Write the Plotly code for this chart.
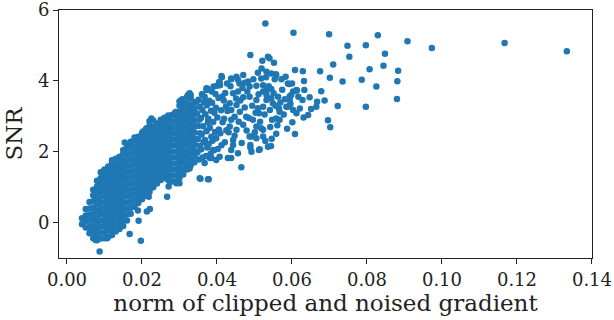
import plotly.graph_objects as go

# Dense band: column x positions and the SNR values read within each column
band_x = [0.0040, 0.0050, 0.0060, 0.0070, 0.0080, 0.0090, 0.0100, 0.0110, 0.0120, 0.0130,
          0.0140, 0.0150, 0.0160, 0.0170, 0.0180, 0.0190, 0.0200, 0.0210, 0.0220, 0.0230,
          0.0240, 0.0250, 0.0260, 0.0270, 0.0280, 0.0290, 0.0300, 0.0310, 0.0320, 0.0330,
          0.0340]
band_y = [
    [-0.05, 0.12],
    [-0.14, 0.04, 0.20, 0.38],
    [-0.30, -0.12, 0.05, 0.22, 0.40, 0.58],
    [-0.44, -0.27, -0.10, 0.08, 0.25, 0.42, 0.60, 0.77, 0.93],
    [-0.50, -0.33, -0.16, 0.01, 0.17, 0.34, 0.51, 0.68, 0.85, 1.02, 1.18],
    [-0.45, -0.28, -0.11, 0.06, 0.24, 0.41, 0.58, 0.75, 0.92, 1.09, 1.26, 1.42],
    [-0.44, -0.27, -0.10, 0.07, 0.23, 0.40, 0.57, 0.74, 0.91, 1.07, 1.24, 1.40, 1.50],
    [-0.40, -0.22, -0.05, 0.12, 0.29, 0.46, 0.63, 0.80, 0.97, 1.14, 1.31, 1.47, 1.58],
    [-0.35, -0.18, -0.01, 0.16, 0.33, 0.50, 0.67, 0.84, 1.01, 1.18, 1.35, 1.52, 1.68, 1.76],
    [-0.25, -0.08, 0.09, 0.26, 0.43, 0.60, 0.77, 0.94, 1.11, 1.28, 1.45, 1.62, 1.80],
    [-0.18, -0.01, 0.16, 0.33, 0.50, 0.67, 0.84, 1.01, 1.18, 1.35, 1.52, 1.69, 1.86],
    [-0.10, 0.07, 0.24, 0.41, 0.58, 0.75, 0.92, 1.09, 1.26, 1.43, 1.60, 1.77, 1.94, 2.05],
    [0.06, 0.23, 0.40, 0.57, 0.74, 0.91, 1.08, 1.25, 1.42, 1.59, 1.76, 1.93, 2.10, 2.20],
    [0.25, 0.42, 0.59, 0.76, 0.93, 1.10, 1.27, 1.44, 1.61, 1.78, 1.95, 2.12, 2.28],
    [0.45, 0.62, 0.79, 0.96, 1.13, 1.30, 1.47, 1.64, 1.81, 1.98, 2.15, 2.32, 2.40],
    [0.55, 0.72, 0.89, 1.06, 1.23, 1.40, 1.57, 1.74, 1.91, 2.08, 2.25, 2.42],
    [0.66, 0.83, 1.00, 1.17, 1.34, 1.51, 1.68, 1.85, 2.02, 2.19, 2.36, 2.53],
    [0.76, 0.93, 1.10, 1.27, 1.44, 1.61, 1.78, 1.95, 2.12, 2.29, 2.46, 2.63],
    [0.86, 1.03, 1.20, 1.37, 1.54, 1.71, 1.88, 2.05, 2.22, 2.39, 2.56, 2.73, 2.86],
    [1.00, 1.17, 1.34, 1.51, 1.68, 1.85, 2.02, 2.19, 2.36, 2.53, 2.70, 2.88],
    [1.10, 1.27, 1.44, 1.61, 1.78, 1.95, 2.12, 2.29, 2.46, 2.63, 2.80],
    [1.20, 1.37, 1.54, 1.71, 1.88, 2.05, 2.22, 2.39, 2.56, 2.73, 2.90],
    [1.26, 1.43, 1.60, 1.77, 1.94, 2.11, 2.28, 2.45, 2.62, 2.79, 2.96],
    [1.20, 1.37, 1.54, 1.71, 1.88, 2.05, 2.22, 2.39, 2.56, 2.73, 2.90, 3.02],
    [1.16, 1.33, 1.50, 1.67, 1.84, 2.01, 2.18, 2.35, 2.52, 2.69, 2.86, 3.04],
    [1.16, 1.33, 1.50, 1.67, 1.84, 2.01, 2.18, 2.35, 2.52, 2.69, 2.86, 3.03, 3.12],
    [1.26, 1.43, 1.60, 1.77, 1.94, 2.11, 2.28, 2.45, 2.62, 2.79, 2.96, 3.13, 3.30, 3.42],
    [1.36, 1.53, 1.70, 1.87, 2.04, 2.21, 2.38, 2.55, 2.72, 2.89, 3.06, 3.23, 3.40],
    [1.50, 1.67, 1.84, 2.01, 2.18, 2.35, 2.52, 2.69, 2.86, 3.03, 3.20, 3.37, 3.55],
    [1.62, 1.79, 1.96, 2.13, 2.30, 2.47, 2.64, 2.81, 2.98, 3.15, 3.32, 3.50, 3.60],
    [1.70, 1.87, 2.04, 2.21, 2.38, 2.55, 2.72, 2.89, 3.06, 3.23, 3.40],
]

# Upper end of the dense band (points read individually)
upper_x = [0.0352, 0.0348, 0.0354, 0.0349, 0.0355, 0.0350, 0.0353, 0.0347, 0.0354, 0.0351,
           0.0362, 0.0358, 0.0364, 0.0359, 0.0363, 0.0357, 0.0361, 0.0365, 0.0360,
           0.0371, 0.0374, 0.0368, 0.0372, 0.0376, 0.0369, 0.0373, 0.0367, 0.0375,
           0.0383, 0.0378, 0.0385, 0.0381, 0.0377, 0.0384, 0.0379, 0.0386,
           0.0392, 0.0388, 0.0395, 0.0390, 0.0393, 0.0387, 0.0396, 0.0391,
           0.0402, 0.0398, 0.0405, 0.0401, 0.0397, 0.0404, 0.0400, 0.0406,
           0.0412, 0.0409, 0.0415, 0.0411, 0.0414, 0.0408, 0.0413,
           0.0421, 0.0425, 0.0419, 0.0424, 0.0422, 0.0427]
upper_y = [1.78, 1.98, 2.16, 2.35, 2.52, 2.73, 2.90, 3.08, 3.27, 3.47,
           1.84, 2.07, 2.26, 2.49, 2.72, 2.95, 3.18, 3.40, 3.62,
           1.88, 2.12, 2.33, 2.58, 2.83, 3.06, 3.31, 3.55, 3.78,
           1.94, 2.22, 2.42, 2.68, 2.93, 3.16, 3.44, 3.70,
           2.04, 2.31, 2.56, 2.84, 3.10, 3.38, 3.63, 3.84,
           2.08, 2.38, 2.63, 2.97, 3.24, 3.52, 3.86, 3.97,
           2.18, 2.52, 2.83, 3.17, 3.56, 3.88, 4.10,
           2.27, 2.61, 2.93, 3.28, 3.66, 3.93]

# Middle region (scattered but fairly dense)
mid_x = [0.0489, 0.0521, 0.0540, 0.0552, 0.0536, 0.0509, 0.0532, 0.0545, 0.0558, 0.0572,
         0.0589, 0.0600, 0.0592, 0.0613, 0.0603, 0.0612, 0.0598, 0.0594, 0.0589, 0.0603,
         0.0612, 0.0558, 0.0546, 0.0544, 0.0514, 0.0489, 0.0492, 0.0465, 0.0443, 0.0438,
         0.0518, 0.0505, 0.0567, 0.0541, 0.0558, 0.0567, 0.0547, 0.0569, 0.0565, 0.0585,
         0.0594, 0.0581, 0.0545, 0.0523, 0.0509, 0.0512, 0.0496, 0.0478, 0.0461, 0.0447,
         0.0438, 0.0452, 0.0470, 0.0487, 0.0505, 0.0532, 0.0533, 0.0523, 0.0545, 0.0505,
         0.0487, 0.0474, 0.0456, 0.0438, 0.0443, 0.0456, 0.0434, 0.0438, 0.0434, 0.0452,
         0.0470, 0.0487, 0.0505, 0.0523, 0.0489, 0.0443, 0.0438, 0.0456, 0.0549, 0.0563,
         0.0532, 0.0554, 0.0518, 0.0523, 0.0470, 0.0452, 0.0412, 0.0407, 0.0438, 0.0460,
         0.0483, 0.0372, 0.0327, 0.0308, 0.0536, 0.0512, 0.0492, 0.0523, 0.0407, 0.0429,
         0.0381, 0.0385,
         0.0418, 0.0428, 0.0431, 0.0436, 0.0447, 0.0451, 0.0458, 0.0462, 0.0466, 0.0468,
         0.0474, 0.0479, 0.0481, 0.0485, 0.0494, 0.0497, 0.0501, 0.0503, 0.0511, 0.0515,
         0.0519, 0.0527, 0.0529, 0.0531, 0.0538, 0.0542, 0.0551, 0.0556, 0.0561, 0.0574,
         0.0578, 0.0583, 0.0587, 0.0596, 0.0617, 0.0621, 0.0557]
mid_y = [4.73, 4.57, 4.64, 4.51, 4.68, 4.23, 4.26, 4.21, 4.17, 4.05,
         3.93, 3.93, 3.91, 3.73, 3.70, 3.74, 3.60, 3.46, 3.27, 3.18,
         3.09, 2.51, 2.37, 2.16, 2.07, 2.12, 2.00, 1.56, 2.33, 2.05,
         2.66, 2.71, 3.13, 3.18, 2.94, 2.90, 2.90, 3.39, 3.23, 3.27,
         3.57, 3.48, 3.51, 3.27, 3.23, 3.09, 2.90, 2.99, 3.13, 2.99,
         2.90, 3.32, 3.54, 3.55, 3.46, 3.60, 3.74, 3.70, 3.77, 3.86,
         3.84, 3.95, 4.03, 4.07, 3.65, 3.70, 3.37, 3.18, 2.71, 2.62,
         2.76, 2.43, 2.38, 2.43, 2.19, 2.19, 1.82, 1.96, 3.37, 3.55,
         3.46, 4.05, 4.07, 3.88, 4.17, 4.12, 4.14, 3.95, 4.05, 3.93,
         3.98, 3.79, 3.65, 3.48, 2.14, 2.05, 2.43, 2.62, 1.86, 1.82,
         1.82, 1.82,
         3.45, 3.15, 2.55, 3.85, 2.45, 3.50, 2.85, 3.45, 2.25, 3.80,
         3.25, 2.60, 3.70, 2.95, 3.30, 4.05, 2.55, 3.10, 3.62, 2.85,
         4.35, 3.05, 2.30, 4.10, 3.85, 2.70, 3.65, 3.30, 2.75, 3.75,
         3.05, 4.12, 2.65, 3.35, 3.55, 3.22, 4.19]

# Sparse upper-right points
sparse_x = [0.1167, 0.1333, 0.0973, 0.0908, 0.0829, 0.0848, 0.0807, 0.0844, 0.0883, 0.0881,
            0.0825, 0.0880, 0.0529, 0.0604, 0.0699, 0.0748, 0.0797, 0.0753, 0.0710, 0.0675,
            0.0701, 0.0735, 0.0786, 0.0722, 0.0797, 0.0696, 0.0702, 0.0678, 0.0687, 0.0667,
            0.0665, 0.0651, 0.0643, 0.0631, 0.0608, 0.0601, 0.0647, 0.0628, 0.0633, 0.0632,
            0.0629, 0.0608]
sparse_y = [5.07, 4.84, 4.93, 5.12, 5.29, 4.77, 4.33, 4.43, 4.29, 3.99,
            3.84, 3.49, 5.62, 5.36, 5.32, 4.99, 5.01, 4.68, 4.46, 4.27,
            4.09, 3.98, 4.03, 3.29, 3.27, 2.89, 2.69, 3.71, 3.45, 3.41,
            3.27, 3.21, 3.04, 2.97, 2.50, 2.83, 3.54, 3.46, 3.74, 4.00,
            4.27, 4.31]

# Isolated points around the edges of the dense band
edge_x = [0.0087, 0.0197, 0.0167, 0.0191, 0.0189, 0.0213, 0.0221, 0.0218, 0.0222, 0.0267,
          0.0271, 0.0292, 0.0274, 0.0300, 0.0309, 0.0327, 0.0367, 0.0356, 0.0378, 0.0354,
          0.0376, 0.0318, 0.0398, 0.0389, 0.0154, 0.0203, 0.0212, 0.0225, 0.0256, 0.0287,
          0.0305, 0.0323, 0.0345, 0.0372, 0.0076, 0.0107, 0.0062]
edge_y = [-0.82, -0.51, -0.32, 0.05, 0.34, 0.31, 0.38, 0.73, 0.97, 0.73,
          1.02, 1.11, 1.16, 1.11, 1.39, 1.53, 1.68, 1.24, 1.22, 1.25,
          1.22, 1.53, 1.77, 2.05, 2.26, 2.57, 2.66, 2.94, 2.90, 3.09,
          3.46, 3.60, 3.41, 3.74, -0.49, -0.44, -0.25]

x_ticks = [0.00, 0.02, 0.04, 0.06, 0.08, 0.10, 0.12, 0.14]
y_ticks = [0, 2, 4, 6]

xs, ys = [], []
for cx, col in zip(band_x, band_y):
    for v in col:
        xs.append(cx)
        ys.append(v)
xs += upper_x + mid_x + sparse_x + edge_x
ys += upper_y + mid_y + sparse_y + edge_y

fig = go.Figure(go.Scatter(
    x=xs, y=ys, mode="markers",
    marker=dict(color="#1f77b4", size=6.5, line=dict(width=0)),
    hoverinfo="skip",
))

font = "DejaVu Serif"
axis_common = dict(
    showgrid=False, zeroline=False, showline=True, linecolor="#222", linewidth=1.1,
    mirror=True, ticks="outside", ticklen=5, tickwidth=1.1, tickcolor="#222",
    tickfont=dict(family=font, size=18, color="#222"), automargin=False,
    ticklabeloverflow="allow",
)
fig.update_xaxes(range=[-0.00213, 0.14001], tickvals=x_ticks,
                 ticktext=[f"{t:.2f}" for t in x_ticks],
                 title=dict(text="norm of clipped and noised gradient",
                            font=dict(family=font, size=23, color="#222"), standoff=4),
                 **axis_common)
fig.update_yaxes(range=[-1, 6.002], tickvals=y_ticks, ticktext=[str(t) for t in y_ticks],
                 title=dict(text="SNR", font=dict(family=font, size=23, color="#222"),
                            standoff=8),
                 **axis_common)
fig.update_layout(
    width=614, height=320, margin=dict(l=59, r=22, t=10, b=62),
    plot_bgcolor="white", paper_bgcolor="white", showlegend=False,
)
fig.write_html("out.html")
